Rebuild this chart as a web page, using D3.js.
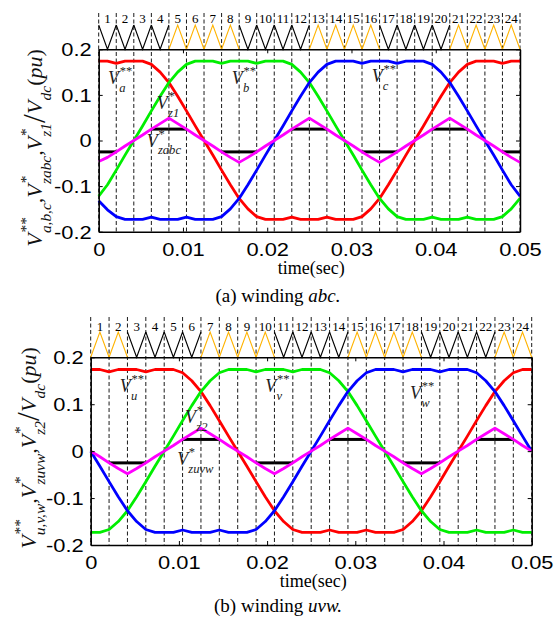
<!DOCTYPE html>
<html>
<head>
<meta charset="utf-8">
<script src="https://cdn.jsdelivr.net/npm/d3@7"></script>
<style>
body { margin: 0; background: #fff; }
svg { display: block; }
</style>
</head>
<body>
<div id="chart"></div>
<script>
var svgWidth = 556, svgHeight = 628;
var tEnd = 0.05, nSeg = 24;

// sample times: every half carrier period
var times = d3.range(49).map(function(k) { return k * tEnd / 48; });
var xTicks = [0, 0.01, 0.02, 0.03, 0.04, 0.05];
var yTicks = [-0.2, -0.1, 0, 0.1, 0.2];

// (a) winding abc
var vaA = [0.174,0.174,0.169,0.174,0.174,0.174,0.167,0.150,0.127,0.097,0.065,0.032,0,-0.032,-0.065,-0.097,-0.127,-0.150,-0.167,-0.173,-0.173,-0.173,-0.168,-0.173,-0.173,-0.173,-0.168,-0.173,-0.173,-0.173,-0.167,-0.150,-0.127,-0.097,-0.065,-0.032,0,0.032,0.065,0.097,0.127,0.150,0.167,0.174,0.174,0.174,0.169,0.174,0.174];
var vbA = [-0.122,-0.097,-0.065,-0.032,0,0.032,0.065,0.097,0.127,0.150,0.167,0.174,0.174,0.174,0.169,0.174,0.174,0.174,0.169,0.174,0.174,0.174,0.167,0.150,0.127,0.097,0.065,0.032,0,-0.032,-0.065,-0.097,-0.127,-0.150,-0.167,-0.173,-0.173,-0.173,-0.168,-0.173,-0.173,-0.173,-0.168,-0.173,-0.173,-0.173,-0.167,-0.150,-0.127];
var vcA = [-0.132,-0.152,-0.167,-0.173,-0.173,-0.173,-0.168,-0.173,-0.173,-0.173,-0.168,-0.173,-0.173,-0.173,-0.167,-0.150,-0.127,-0.097,-0.065,-0.032,0,0.032,0.065,0.097,0.127,0.150,0.167,0.174,0.174,0.174,0.169,0.174,0.174,0.174,0.169,0.174,0.174,0.174,0.167,0.150,0.127,0.097,0.065,0.032,0,-0.032,-0.065,-0.097,-0.122];
var vz1A = [-0.046,-0.037,-0.025,-0.012,0,0.012,0.025,0.037,0.049,0.037,0.025,0.012,0,-0.012,-0.025,-0.037,-0.048,-0.037,-0.025,-0.012,0,0.012,0.025,0.037,0.049,0.037,0.025,0.012,0,-0.012,-0.025,-0.037,-0.048,-0.037,-0.025,-0.012,0,0.012,0.025,0.037,0.049,0.037,0.025,0.012,0,-0.012,-0.025,-0.037,-0.048];
// zero-sequence step, one value per carrier period (null = not drawn)
var vzabcA = [-0.025,null,null,0.025,0.025,null,null,-0.025,-0.025,null,null,0.025,0.025,null,null,-0.025,-0.025,null,null,0.025,0.025,null,null,-0.025];
// carrier type per period: 0 = black "V", 1 = orange inverted
var carrierA = [0,0,0,0,1,1,1,1,0,0,0,0,1,1,1,1,0,0,0,0,1,1,1,1];

// (b) winding uvw
var vuB = [0.174,0.174,0.169,0.174,0.174,0.174,0.169,0.174,0.174,0.174,0.167,0.150,0.127,0.097,0.065,0.032,0,-0.032,-0.065,-0.097,-0.127,-0.150,-0.167,-0.173,-0.173,-0.173,-0.168,-0.173,-0.173,-0.173,-0.168,-0.173,-0.173,-0.173,-0.167,-0.150,-0.127,-0.097,-0.065,-0.032,0,0.032,0.065,0.097,0.127,0.150,0.167,0.174,0.174];
var vvB = [-0.173,-0.173,-0.167,-0.150,-0.127,-0.097,-0.065,-0.032,0,0.032,0.065,0.097,0.127,0.150,0.167,0.174,0.174,0.174,0.169,0.174,0.174,0.174,0.169,0.174,0.174,0.174,0.167,0.150,0.127,0.097,0.065,0.032,0,-0.032,-0.065,-0.097,-0.127,-0.150,-0.167,-0.173,-0.173,-0.173,-0.168,-0.173,-0.173,-0.173,-0.168,-0.173,-0.173];
var vwB = [0,-0.032,-0.065,-0.097,-0.127,-0.150,-0.167,-0.173,-0.173,-0.173,-0.168,-0.173,-0.173,-0.173,-0.168,-0.173,-0.173,-0.173,-0.167,-0.150,-0.127,-0.097,-0.065,-0.032,0,0.032,0.065,0.097,0.127,0.150,0.167,0.174,0.174,0.174,0.169,0.174,0.174,0.174,0.169,0.174,0.174,0.174,0.167,0.150,0.127,0.097,0.065,0.032,0];
var vz2B = [0,-0.012,-0.025,-0.037,-0.048,-0.037,-0.025,-0.012,0,0.012,0.025,0.037,0.049,0.037,0.025,0.012,0,-0.012,-0.025,-0.037,-0.048,-0.037,-0.025,-0.012,0,0.012,0.025,0.037,0.049,0.037,0.025,0.012,0,-0.012,-0.025,-0.037,-0.048,-0.037,-0.025,-0.012,0,0.012,0.025,0.037,0.049,0.037,0.025,0.012,0];
var vzuvwB = [null,-0.025,-0.025,null,null,0.025,0.025,null,null,-0.025,-0.025,null,null,0.025,0.025,null,null,-0.025,-0.025,null,null,0.025,0.025,null];
var carrierB = [1,1,0,0,0,0,1,1,1,1,0,0,0,0,1,1,1,1,0,0,0,0,1,1];

var serif = "'Liberation Serif','Times New Roman',serif";
var sans = "'Liberation Sans',Arial,sans-serif";

var svg = d3.select("#chart").append("svg")
    .attr("width", svgWidth)
    .attr("height", svgHeight);

// lays out V with stacked super/subscripts, returns total width
function mathText(g, pieces, fs) {
    var x = 0;
    pieces.forEach(function(p) {
        var size = p.big ? fs * 1.45 : fs;
        var t = g.append("text")
            .attr("x", x)
            .attr("y", p.big ? fs * 0.15 : 0)
            .style("font-size", size + "px")
            .style("font-style", p.up ? "normal" : "italic")
            .text(p.m);
        x += t.node().getComputedTextLength();
        var w = 0;
        if (p.sup) {
            var s = g.append("text")
                .attr("x", x + fs * 0.04)
                .attr("y", -fs * 0.5)
                .style("font-size", (fs * 0.7) + "px")
                .text(p.sup);
            w = s.node().getComputedTextLength() + fs * 0.04;
        }
        if (p.sub) {
            var b = g.append("text")
                .attr("x", x + fs * 0.01)
                .attr("y", fs * 0.42)
                .style("font-size", (fs * 0.7) + "px")
                .style("font-style", "italic")
                .text(p.sub);
            w = Math.max(w, b.node().getComputedTextLength() + fs * 0.01);
        }
        x += w;
    });
    return x;
}

function drawPanel(cfg) {
    var x = d3.scaleLinear().domain([0, tEnd]).range([cfg.left, cfg.right]);
    var y = d3.scaleLinear().domain([-0.2, 0.2]).range([cfg.bottom, cfg.top]);
    var yc = d3.scaleLinear().domain([0, 1]).range([cfg.top, cfg.carTop]);
    var edges = d3.range(nSeg + 1).map(function(i) { return i * tEnd / nSeg; });
    var g = svg.append("g");

    // dashed carrier boundaries
    g.selectAll(".grid")
        .data(edges)
        .enter().append("line")
        .attr("x1", function(d) { return x(d); })
        .attr("x2", function(d) { return x(d); })
        .attr("y1", cfg.dashTop)
        .attr("y2", cfg.bottom)
        .attr("stroke", "#000")
        .attr("stroke-width", 0.9)
        .attr("stroke-dasharray", "4,2.5");

    // carriers
    var carLine = d3.line()
        .x(function(d) { return x(d[0]); })
        .y(function(d) { return yc(d[1]); });
    g.selectAll(".car")
        .data(cfg.carrier)
        .enter().append("path")
        .attr("d", function(c, i) {
            var t0 = edges[i], t1 = edges[i + 1];
            var hi = c === 0 ? 1 : 0;
            return carLine([[t0, hi], [(t0 + t1) / 2, 1 - hi], [t1, hi]]);
        })
        .attr("fill", "none")
        .attr("stroke", function(c) { return c ? "#ffb300" : "#000"; })
        .attr("stroke-width", 1.1);

    // carrier numbers
    g.selectAll(".num")
        .data(cfg.carrier)
        .enter().append("text")
        .attr("x", function(c, i) { return x((edges[i] + edges[i + 1]) / 2); })
        .attr("y", cfg.numBase)
        .attr("text-anchor", "middle")
        .style("font-family", serif)
        .style("font-size", "13px")
        .text(function(c, i) { return i + 1; });

    // zero-sequence step
    g.selectAll(".zs")
        .data(cfg.zs.map(function(v, i) { return { v: v, i: i }; }).filter(function(d) { return d.v !== null; }))
        .enter().append("line")
        .attr("x1", function(d) { return x(edges[d.i]); })
        .attr("x2", function(d) { return x(edges[d.i + 1]); })
        .attr("y1", function(d) { return y(d.v); })
        .attr("y2", function(d) { return y(d.v); })
        .attr("stroke", "#000")
        .attr("stroke-width", 3);

    // phase voltages + zero-sequence reference
    var line = d3.line()
        .x(function(d, i) { return x(times[i]); })
        .y(function(d) { return y(d); });
    var series = [cfg.s1, cfg.s2, cfg.s3, cfg.z];
    var colors = ["#ff0000", "#00ee00", "#0000ff", "#ff00ff"];
    g.selectAll(".wave")
        .data(series)
        .enter().append("path")
        .attr("d", line)
        .attr("fill", "none")
        .attr("stroke", function(d, i) { return colors[i]; })
        .attr("stroke-width", 2.8)
        .attr("stroke-linejoin", "round");

    // axes (inward ticks, boxed)
    var fmt = function(d) { return String(d); };
    g.append("g")
        .attr("transform", "translate(0," + cfg.bottom + ")")
        .call(d3.axisBottom(x).tickValues(xTicks).tickSizeInner(-4).tickSizeOuter(0).tickPadding(12).tickFormat(fmt));
    g.append("g")
        .attr("transform", "translate(0," + cfg.top + ")")
        .call(d3.axisTop(x).tickValues(xTicks).tickSizeInner(-4).tickSizeOuter(0).tickFormat(""));
    var yAxis = g.append("g")
        .attr("transform", "translate(" + cfg.left + ",0)")
        .call(d3.axisLeft(y).tickValues(yTicks).tickSizeInner(-4).tickSizeOuter(0).tickPadding(5.6).tickFormat(fmt));
    g.append("g")
        .attr("transform", "translate(" + cfg.right + ",0)")
        .call(d3.axisRight(y).tickValues(yTicks).tickSizeInner(-4).tickSizeOuter(0).tickFormat(""));

    g.selectAll(".domain").attr("stroke", "#000").attr("stroke-width", 1.5);
    g.selectAll(".tick line").attr("stroke", "#000").attr("stroke-width", 1);
    g.selectAll(".tick text")
        .attr("fill", "#000")
        .style("font-family", sans)
        .style("font-size", "17.5px")
        .attr("transform", "scale(1.25,1)");
    yAxis.selectAll(".tick text").attr("dy", "0.36em");

    // in-plot labels
    cfg.labels.forEach(function(l) {
        var lg = g.append("g")
            .attr("transform", "translate(" + x(l.t) + "," + y(l.v) + ")")
            .style("font-family", serif)
            .attr("fill", "#222");
        mathText(lg, l.pieces, 18);
    });

    // y axis title
    var tg = g.append("g")
        .attr("transform", "translate(" + cfg.titleX + "," + cfg.titleY + ") rotate(-90)")
        .style("font-family", serif)
        .attr("fill", "#111");
    var inner = tg.append("g");
    var w = mathText(inner, cfg.title, 22);
    inner.attr("transform", "translate(" + (-w / 2) + ",0)");

    // x axis title
    g.append("text")
        .attr("x", (cfg.left + cfg.right) / 2 + 2)
        .attr("y", cfg.bottom + 42)
        .attr("text-anchor", "middle")
        .style("font-family", serif)
        .style("font-size", "18px")
        .text("time(sec)");

    // caption
    var cap = g.append("text")
        .attr("x", 278)
        .attr("y", cfg.capY)
        .attr("text-anchor", "middle")
        .style("font-family", serif)
        .style("font-size", "19px");
    cap.append("tspan").text(cfg.capA);
    cap.append("tspan").style("font-style", "italic").text(cfg.capB);
}

drawPanel({
    left: 98.7, right: 520, top: 49.3, bottom: 231.7,
    dashTop: 13, carTop: 25, numBase: 23.3,
    carrier: carrierA, zs: vzabcA,
    s1: vaA, s2: vbA, s3: vcA, z: vz1A,
    titleX: 42, titleY: 148,
    capY: 302, capA: "(a) winding ", capB: "abc.",
    labels: [
        { t: 0.0011, v: 0.124, pieces: [{ m: "V", sup: "**", sub: "a" }] },
        { t: 0.0158, v: 0.124, pieces: [{ m: "V", sup: "**", sub: "b" }] },
        { t: 0.0324, v: 0.128, pieces: [{ m: "V", sup: "**", sub: "c" }] },
        { t: 0.0069, v: 0.069, pieces: [{ m: "V", sup: "*", sub: "z1" }] },
        { t: 0.0057, v: -0.014, pieces: [{ m: "V", sup: "*", sub: "zabc" }] }
    ],
    title: [
        { m: "V", sup: "**", sub: "a,b,c" }, { m: ", " },
        { m: "V", sup: "*", sub: "zabc" }, { m: ", " },
        { m: "V", sup: "*", sub: "z1" }, { m: "/", big: true, up: true },
        { m: "V", sub: "dc" }, { m: " (", up: true }, { m: "pu" }, { m: ")", up: true }
    ]
});

drawPanel({
    left: 90.7, right: 531.7, top: 357.3, bottom: 545,
    dashTop: 317, carTop: 332, numBase: 331,
    carrier: carrierB, zs: vzuvwB,
    s1: vuB, s2: vvB, s3: vwB, z: vz2B,
    titleX: 36, titleY: 448,
    capY: 612, capA: "(b) winding ", capB: "uvw.",
    labels: [
        { t: 0.0033, v: 0.126, pieces: [{ m: "V", sup: "**", sub: "u" }] },
        { t: 0.0198, v: 0.126, pieces: [{ m: "V", sup: "**", sub: "v" }] },
        { t: 0.0362, v: 0.111, pieces: [{ m: "V", sup: "**", sub: "w" }] },
        { t: 0.0107, v: 0.060, pieces: [{ m: "V", sup: "*", sub: "z2" }] },
        { t: 0.0098, v: -0.030, pieces: [{ m: "V", sup: "*", sub: "zuvw" }] }
    ],
    title: [
        { m: "V", sup: "**", sub: "u,v,w" }, { m: ", " },
        { m: "V", sup: "*", sub: "zuvw" }, { m: ", " },
        { m: "V", sup: "*", sub: "z2" }, { m: "/", big: true, up: true },
        { m: "V", sub: "dc" }, { m: " (", up: true }, { m: "pu" }, { m: ")", up: true }
    ]
});
</script>
</body>
</html>
